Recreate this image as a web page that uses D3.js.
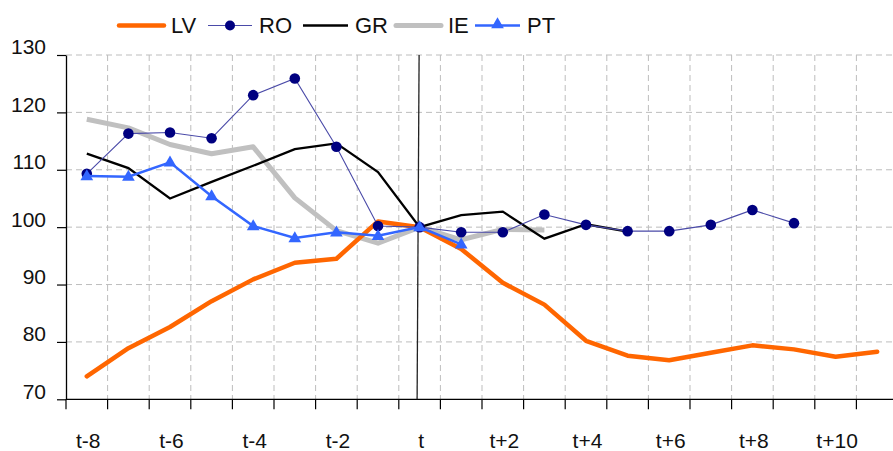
<!DOCTYPE html>
<html>
<head>
<meta charset="utf-8">
<script src="https://cdn.jsdelivr.net/npm/d3@7/dist/d3.min.js"></script>
<style>
  html, body { margin: 0; padding: 0; background: #fff; }
  svg { display: block; font-family: "Liberation Sans", Arial, sans-serif; }
</style>
</head>
<body>
<svg id="chart" width="893" height="451"></svg>
<script>
// Periods around the reference year t
const categories = ["t-8","t-7","t-6","t-5","t-4","t-3","t-2","t-1","t",
  "t+1","t+2","t+3","t+4","t+5","t+6","t+7","t+8","t+9","t+10","t+11"];
const tickLabels = ["t-8","t-6","t-4","t-2","t","t+2","t+4","t+6","t+8","t+10"];
const yTicks = [70, 80, 90, 100, 110, 120, 130];

// Index values (t = 100)
const LV = [74.0, 78.9, 82.6, 87.1, 90.9, 93.8, 94.5, 101.0, 100, 96.2,
  90.3, 86.5, 80.2, 77.6, 76.8, 78.1, 79.4, 78.7, 77.4, 78.3];
const RO = [109.3, 116.3, 116.5, 115.5, 123.0, 125.9, 114.0, 100.2, 100, 99.1,
  99.1, 102.2, 100.4, 99.3, 99.3, 100.4, 103.0, 100.7];
const GR = [112.8, 110.3, 105.0, 107.9, 110.7, 113.6, 114.6, 109.6, 100, 102.1,
  102.7, 98.0, 100.5, 99.2];
const IE = [118.8, 117.3, 114.4, 112.8, 114.0, 105.1, 99.4, 97.2, 100, 97.8,
  99.6, 99.5];
const PT = [108.9, 108.8, 111.3, 105.4, 100.2, 98.1, 99.1, 98.5, 100, 97.0];

const svg = d3.select("#chart");
const plotLeft = 66, plotTop = 55, plotBottom = 399.3, step = 41.6, plotRight = 893;

const x = d3.scaleBand().domain(categories)
  .range([plotLeft, plotLeft + step * categories.length]).padding(0);
const y = d3.scaleLinear().domain([70, 130]).range([plotBottom, plotTop]);
const cx = c => x(c) + x.bandwidth() / 2;

// Dashed grid
const grid = svg.append("g").attr("stroke", "#bdbdbd").attr("stroke-width", 1)
  .attr("stroke-dasharray", "6,4");
grid.selectAll("line.h").data(yTicks.filter(v => v > 70)).join("line")
  .attr("class", "h")
  .attr("x1", plotLeft).attr("x2", plotRight)
  .attr("y1", d => y(d)).attr("y2", d => y(d));
grid.selectAll("line.v").data(categories.slice(1)).join("line")
  .attr("class", "v")
  .attr("x1", d => x(d)).attr("x2", d => x(d))
  .attr("y1", plotTop).attr("y2", plotBottom);

// Y axis
const yAxis = svg.append("g").attr("transform", `translate(${plotLeft},0)`)
  .call(d3.axisLeft(y).tickValues(yTicks).tickSize(9).tickPadding(11).tickSizeOuter(0));
yAxis.select(".domain").attr("stroke", "#000").attr("stroke-width", 1.3);
yAxis.selectAll(".tick line").attr("stroke", "#000").attr("stroke-width", 1.2);
yAxis.selectAll(".tick text").attr("font-size", 21).attr("fill", "#111")
  .attr("font-family", "Liberation Sans, Arial, sans-serif").attr("dy", "-0.05em");

// X axis line and tick marks at category boundaries
svg.append("line").attr("x1", plotLeft).attr("x2", plotRight)
  .attr("y1", plotBottom).attr("y2", plotBottom).attr("stroke", "#000").attr("stroke-width", 1.3);
svg.append("g").selectAll("line").data(categories).join("line")
  .attr("x1", d => x(d)).attr("x2", d => x(d))
  .attr("y1", plotBottom).attr("y2", plotBottom + 10)
  .attr("stroke", "#000").attr("stroke-width", 1.2);

// X labels
svg.append("g").selectAll("text").data(tickLabels).join("text")
  .attr("x", d => cx(d) + 1.5).attr("y", 448)
  .attr("text-anchor", "middle").attr("font-size", 21).attr("fill", "#111")
  .text(d => d);

// Reference period marker
svg.append("line")
  .attr("x1", cx("t") - 0.5).attr("x2", cx("t") - 2.5)
  .attr("y1", plotTop).attr("y2", plotBottom)
  .attr("stroke", "#222").attr("stroke-width", 1.3);

const line = d3.line().x((d, i) => cx(categories[i])).y(d => y(d));
const pts = arr => arr.map((v, i) => ({ c: categories[i], v }));

// IE
svg.append("path").datum(IE).attr("d", line).attr("fill", "none")
  .attr("stroke", "#c0c0c0").attr("stroke-width", 5).attr("stroke-linejoin", "round");
// GR
svg.append("path").datum(GR).attr("d", line).attr("fill", "none")
  .attr("stroke", "#000").attr("stroke-width", 2.3);
// LV
svg.append("path").datum(LV).attr("d", line).attr("fill", "none")
  .attr("stroke", "#ff6600").attr("stroke-width", 4.5).attr("stroke-linejoin", "round")
  .attr("stroke-linecap", "round");
// RO
svg.append("path").datum(RO).attr("d", line).attr("fill", "none")
  .attr("stroke", "#4a4aa8").attr("stroke-width", 1.1);
svg.append("g").selectAll("circle").data(pts(RO)).join("circle")
  .attr("cx", d => cx(d.c)).attr("cy", d => y(d.v)).attr("r", 5.3)
  .attr("fill", "#000080");
// PT
svg.append("path").datum(PT).attr("d", line).attr("fill", "none")
  .attr("stroke", "#3366ff").attr("stroke-width", 2.5);
const tri = d3.symbol().type(d3.symbolTriangle).size(70);
svg.append("g").selectAll("path").data(pts(PT)).join("path")
  .attr("transform", d => `translate(${cx(d.c)},${y(d.v) + 0.5})`)
  .attr("d", tri).attr("fill", "#3366ff");

// Legend
const legend = [
  { name: "LV", x1: 119, x2: 164, tx: 171, color: "#ff6600", w: 4.5 },
  { name: "RO", x1: 208, x2: 252, tx: 259, color: "#4a4aa8", w: 1.1, dot: true },
  { name: "GR", x1: 303, x2: 348, tx: 355, color: "#000", w: 2.3 },
  { name: "IE", x1: 396, x2: 441, tx: 448, color: "#c0c0c0", w: 5 },
  { name: "PT", x1: 475, x2: 520, tx: 527, color: "#3366ff", w: 2.5, tri: true }
];
const ly = 25.5;
const lg = svg.append("g");
legend.forEach(l => {
  lg.append("line").attr("x1", l.x1).attr("x2", l.x2).attr("y1", ly).attr("y2", ly)
    .attr("stroke", l.color).attr("stroke-width", l.w).attr("stroke-linecap", l.w > 4 ? "round" : "butt");
  if (l.dot) lg.append("circle").attr("cx", (l.x1 + l.x2) / 2).attr("cy", ly).attr("r", 5).attr("fill", "#000080");
  if (l.tri) lg.append("path").attr("transform", `translate(${(l.x1 + l.x2) / 2},${ly - 1})`)
    .attr("d", tri).attr("fill", "#3366ff");
  lg.append("text").attr("x", l.tx).attr("y", ly + 7.5).attr("font-size", 22)
    .attr("fill", "#111").text(l.name);
});
</script>
</body>
</html>
